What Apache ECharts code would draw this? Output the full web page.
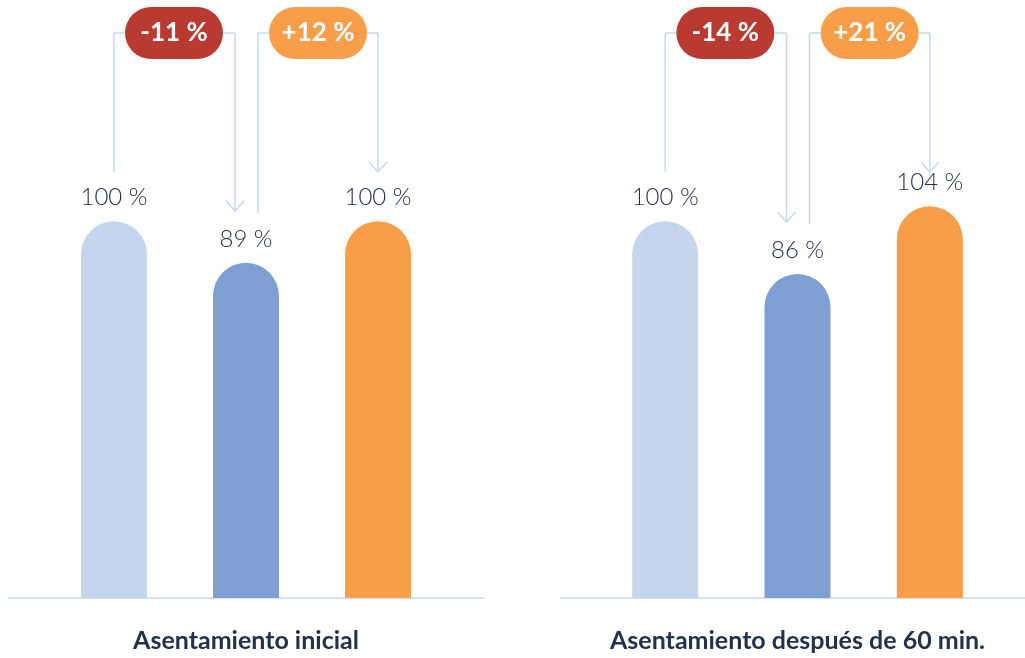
<!DOCTYPE html>
<html><head><meta charset="utf-8">
<script src="https://cdn.jsdelivr.net/npm/echarts@6/dist/echarts.min.js"></script>
<style>html,body{margin:0;padding:0;background:#fff}#c{width:1025px;height:658px}</style>
</head><body><div id="c"></div>
<script>
const groupTitles = ['Asentamiento inicial', 'Asentamiento después de 60 min.'];
const categories = ['Referencia', 'Variante A', 'Variante B'];
const valuesInicial = [100, 89, 100];
const values60 = [100, 86, 104];
const changesInicial = ['-11 %', '+12 %'];
const changes60 = ['-14 %', '+21 %'];

const barColors = ['#c6d5ee', '#7f9fd3', '#f89e48'];
const badgeColors = ['#b83a30', '#f89e48'];
const lineColor = '#c9d8ee';
const navy = '#26304d';

const chart = echarts.init(document.getElementById('c'), null, {renderer: 'canvas'});

const grids = [
  {left: 48, width: 396, top: 33, height: 567},
  {left: 599, width: 397, top: 33, height: 567}
];
const allValues = [valuesInicial, values60];

function mkSeries(i) {
  return {
    type: 'bar', xAxisIndex: i, yAxisIndex: i, barWidth: 66,
    data: allValues[i].map((v, k) => ({value: v, itemStyle: {color: barColors[k]}})),
    itemStyle: {borderRadius: [33, 33, 0, 0]},
    label: {show: true, position: 'top', distance: 12, formatter: p => p.value + ' %',
      fontFamily: 'Lato', fontWeight: 300, fontSize: 24, color: navy},
    silent: true, animation: false
  };
}

chart.setOption({
  animation: false,
  grid: grids,
  xAxis: [0, 1].map(i => ({
    type: 'category', gridIndex: i, data: categories,
    axisLine: {show: false}, axisTick: {show: false}, axisLabel: {show: false},
    name: groupTitles[i], nameLocation: 'middle', nameGap: 30,
    nameTextStyle: {fontFamily: 'Lato', fontWeight: 'bold', fontSize: 25, color: navy}
  })),
  yAxis: [0, 1].map(i => ({
    type: 'value', gridIndex: i, min: 0, max: 150, show: false, splitLine: {show: false}
  })),
  series: [mkSeries(0), mkSeries(1)]
});

const baselines = [[8, 484], [560, 1025]];
const allChanges = [changesInicial, changes60];
const graphics = [];
const badgeY = 33, badgeH = 52, badgeW = 98;

function px(i, k, v) { return chart.convertToPixel({gridIndex: i}, [k, v]); }
function vline(x, y1, y2) {
  graphics.push({type: 'line', shape: {x1: x, y1: y1, x2: x, y2: y2}, style: {stroke: lineColor, lineWidth: 1.5}});
}
function hline(x1, x2, y) {
  graphics.push({type: 'line', shape: {x1: x1, y1: y, x2: x2, y2: y}, style: {stroke: lineColor, lineWidth: 1.5}});
}
function arrow(x, y) {
  graphics.push({type: 'polyline', shape: {points: [[x - 9, y - 10], [x, y], [x + 9, y - 10]]}, style: {stroke: lineColor, lineWidth: 1.5, fill: null}});
}

for (let i = 0; i < 2; i++) {
  const [bx1, bx2] = baselines[i];
  const base = px(i, 0, 0)[1];
  graphics.push({type: 'line', shape: {x1: bx1, y1: base, x2: bx2, y2: base}, style: {stroke: lineColor, lineWidth: 1.5}});
  const vals = allValues[i];
  const p = vals.map((v, k) => px(i, k, v));
  const endY = (k) => Math.max(p[k][1] - 52, 172);
  const c0 = (p[0][0] + p[1][0]) / 2 - 6;
  const c1 = (p[1][0] + p[2][0]) / 2 + 6;
  const a1x = p[1][0] - 11, o1x = p[1][0] + 12;
  vline(p[0][0], endY(0), badgeY); hline(p[0][0], c0 - badgeW / 2, badgeY);
  hline(c0 + badgeW / 2, a1x, badgeY); vline(a1x, badgeY, endY(1)); arrow(a1x, endY(1));
  vline(o1x, endY(1) + 2, badgeY); hline(o1x, c1 - badgeW / 2, badgeY);
  hline(c1 + badgeW / 2, p[2][0], badgeY); vline(p[2][0], badgeY, endY(2)); arrow(p[2][0], endY(2));
  [c0, c1].forEach((cx, j) => {
    graphics.push({type: 'rect', shape: {x: cx - badgeW / 2, y: badgeY - badgeH / 2, width: badgeW, height: badgeH, r: badgeH / 2},
      style: {fill: badgeColors[j]}, z: 10});
    graphics.push({type: 'text', x: cx, y: badgeY, z: 11,
      style: {text: allChanges[i][j], fill: '#fff', font: 'bold 26px Lato', align: 'center', verticalAlign: 'middle'}});
  });
}
chart.setOption({graphic: graphics});
</script></body></html>
